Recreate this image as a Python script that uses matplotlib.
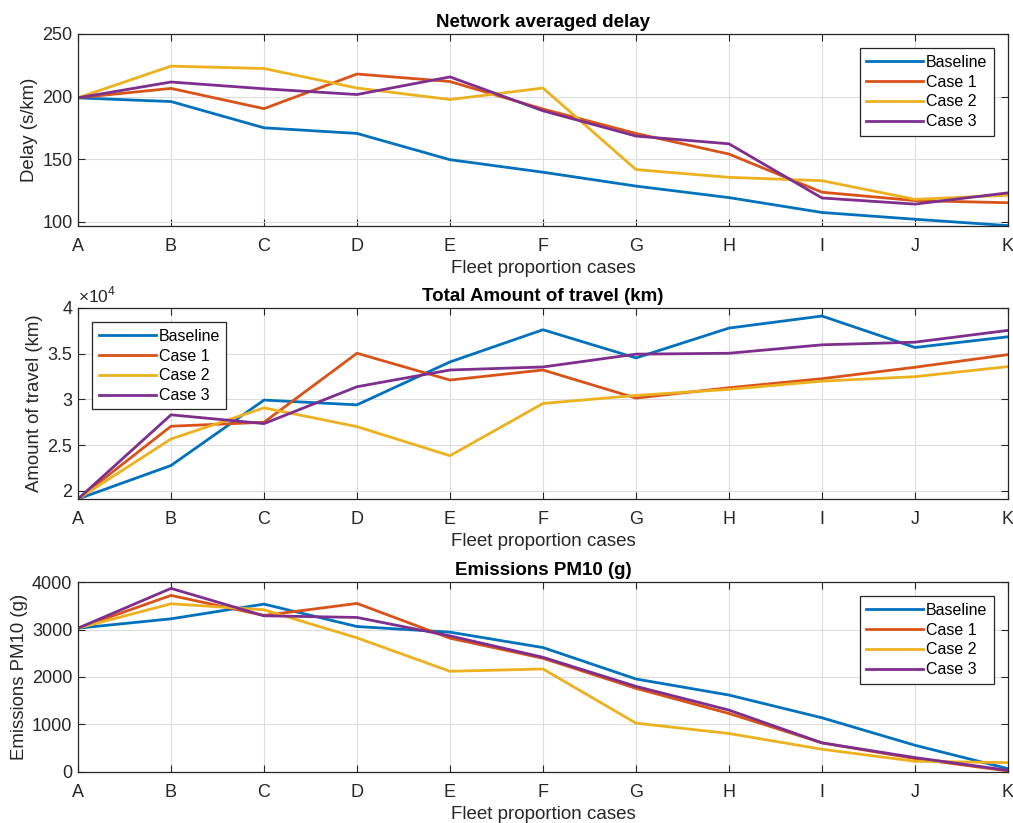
import matplotlib
matplotlib.use("Agg")
import matplotlib.pyplot as plt
from matplotlib.ticker import FuncFormatter

plt.rcParams['font.family'] = ['Liberation Sans', 'DejaVu Sans']
plt.rcParams['mathtext.fontset'] = 'custom'
plt.rcParams['mathtext.rm'] = 'Liberation Sans'

cases = ['A', 'B', 'C', 'D', 'E', 'F', 'G', 'H', 'I', 'J', 'K']
series_names = ['Baseline', 'Case 1', 'Case 2', 'Case 3']

delay_baseline = [198.9, 196.0, 175.0, 170.5, 149.5, 139.5, 128.4, 119.2, 107.3, 101.9, 96.8]
delay_case1 = [199.0, 206.5, 190.3, 218.0, 212.0, 190.0, 170.5, 154.0, 123.5, 116.8, 115.1]
delay_case2 = [199.0, 224.3, 222.4, 206.8, 197.6, 206.8, 141.6, 135.4, 132.7, 117.8, 121.1]
delay_case3 = [199.0, 211.6, 206.2, 201.6, 215.7, 188.6, 168.4, 162.2, 118.9, 114.0, 123.0]

travel_baseline = [19120, 22780, 29930, 29410, 34100, 37620, 34540, 37800, 39120, 35680, 36850]
travel_case1 = [19120, 27070, 27510, 35050, 32120, 33220, 30150, 31280, 32270, 33520, 34900]
travel_case2 = [19120, 25680, 29080, 27030, 23850, 29560, 30440, 31100, 32000, 32490, 33590]
travel_case3 = [19120, 28320, 27360, 31390, 33220, 33550, 34950, 35050, 35970, 36260, 37550]

pm10_baseline = [3028, 3225, 3535, 3063, 2944, 2620, 1958, 1620, 1141, 563, 70]
pm10_case1 = [3028, 3718, 3296, 3549, 2817, 2394, 1761, 1232, 613, 282, 21]
pm10_case2 = [3028, 3542, 3415, 2824, 2120, 2169, 1028, 810, 479, 225, 197]
pm10_case3 = [3028, 3866, 3289, 3254, 2866, 2415, 1803, 1303, 613, 303, 35]

colors = ['#0072BD', '#D95319', '#EDB120', '#7E2F8E']
axcol = '#262626'

fig = plt.figure(figsize=(10.13, 8.23), dpi=100)
left, right = 0.077, 0.995
boxes = [(0.7254, 0.9587), (0.3937, 0.6258), (0.062, 0.2928)]

panels = [
    dict(data=[delay_baseline, delay_case1, delay_case2, delay_case3],
         title='Network averaged delay', ylabel='Delay (s/km)',
         ylim=(96.5, 250), yticks=[100, 150, 200, 250], loc='upper right'),
    dict(data=[travel_baseline, travel_case1, travel_case2, travel_case3],
         title='Total Amount of travel (km)', ylabel='Amount of travel (km)',
         ylim=(19120, 40000), yticks=[20000, 25000, 30000, 35000, 40000], loc='upper left'),
    dict(data=[pm10_baseline, pm10_case1, pm10_case2, pm10_case3],
         title='Emissions PM10 (g)', ylabel='Emissions PM10 (g)',
         ylim=(0, 4000), yticks=[0, 1000, 2000, 3000, 4000], loc='upper right'),
]

x = list(range(len(cases)))
for i, (p, (b, t)) in enumerate(zip(panels, boxes)):
    ax = fig.add_axes([left, b, right - left, t - b])
    for name, vals, c in zip(series_names, p['data'], colors):
        ax.plot(x, vals, color=c, lw=2.0, label=name)
    ax.set_xlim(0, len(cases) - 1)
    ax.set_ylim(*p['ylim'])
    ax.set_xticks(x)
    ax.set_xticklabels(cases)
    ax.set_yticks(p['yticks'])
    if i == 1:
        ax.yaxis.set_major_formatter(FuncFormatter(lambda v, pos: ('%g' % (v / 1e4))))
        ax.text(0.0, 1.015, r'$\times10^{4}$', transform=ax.transAxes, fontsize=12.5,
                color=axcol, ha='left', va='bottom')
    ax.grid(True, color='#dcdcdc', lw=0.8)
    ax.set_axisbelow(True)
    ax.tick_params(direction='in', top=True, right=True, length=5, width=0.8,
                   labelsize=13, colors=axcol, pad=4)
    ax.tick_params(axis='x', pad=9)
    for s in ax.spines.values():
        s.set_color(axcol)
        s.set_linewidth(0.9)
    ax.set_title(p['title'], fontsize=13.5, fontweight='bold', pad=5)
    ax.set_xlabel('Fleet proportion cases', fontsize=13.5, color=axcol, labelpad=3)
    ax.set_ylabel(p['ylabel'], fontsize=13.4, color=axcol, labelpad=3)
    leg = ax.legend(loc=p['loc'], fontsize=11.5, fancybox=False, framealpha=1,
                    edgecolor=axcol, handlelength=3.6, handletextpad=0.15,
                    labelspacing=0.3, borderpad=0.4, borderaxespad=0.9)
    leg.get_frame().set_linewidth(0.9)

fig.savefig('out.png', dpi=100)
